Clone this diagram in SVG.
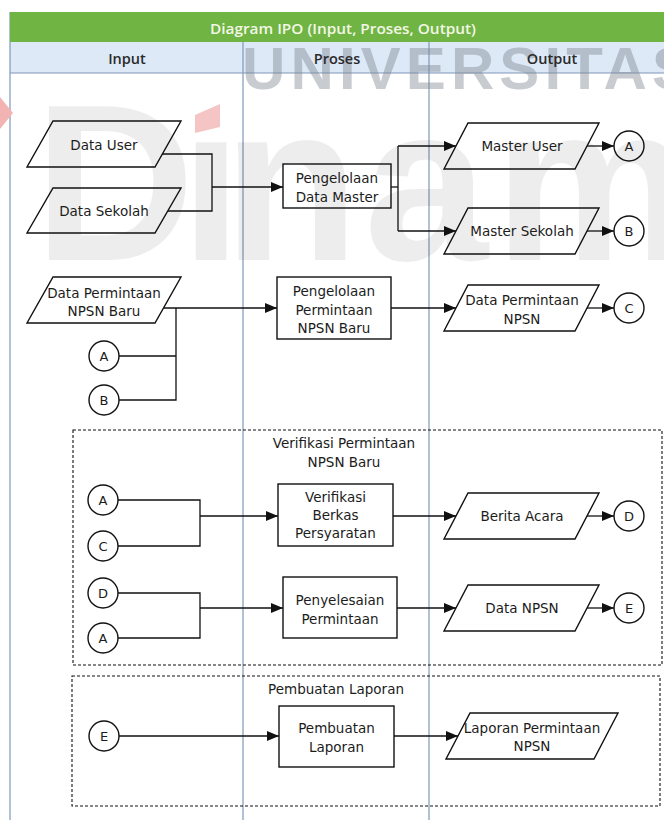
<svg xmlns="http://www.w3.org/2000/svg" width="664" height="820" viewBox="0 0 664 820">
  <style>
    .lane { stroke: #8098ba; stroke-width: 1.2; fill: none; }
    .ln { stroke: #111; stroke-width: 1.3; fill: none; }
    .shp { fill: none; stroke: #111; stroke-width: 1.4; }
    .dash { fill: none; stroke: #111; stroke-width: 1.1; stroke-dasharray: 3 2; }
    .t { font-family: "DejaVu Sans", "Liberation Sans", sans-serif; font-size: 13.5px; fill: #1c1c1c; text-anchor: middle; dominant-baseline: central; }
    .c { font-family: "DejaVu Sans", "Liberation Sans", sans-serif; font-size: 13px; fill: #1c1c1c; text-anchor: middle; dominant-baseline: central; }
    .hd { font-family: "Open Sans", "DejaVu Sans", sans-serif; font-size: 14.5px; font-weight: 600; fill: #2a2a2a; text-anchor: middle; dominant-baseline: central; }
    .wm { font-family: "Liberation Sans", Arial, sans-serif; font-weight: bold; }
  </style>
  <defs>
    <marker id="arrow" markerUnits="userSpaceOnUse" markerWidth="12" markerHeight="10" refX="12" refY="5" orient="auto">
      <path d="M0,0 L12,5 L0,10 z" fill="#111"/>
    </marker>
  </defs>

  <rect width="664" height="820" fill="#ffffff"/>

  <!-- swimlane frame -->
  <g id="lanes">
    <rect x="10" y="42" width="670" height="31" fill="#dde9f7"/>
    <line class="lane" x1="10" y1="73" x2="680" y2="73"/>
    <line class="lane" x1="10" y1="12" x2="10" y2="820"/>
    <line class="lane" x1="243" y1="42" x2="243" y2="820"/>
    <line class="lane" x1="429" y1="42" x2="429" y2="820"/>
  </g>

  <!-- watermark -->
  <g id="watermark">
    <text class="wm" x="242" y="89" font-size="60" textLength="450" lengthAdjust="spacing" fill="#7c838c" fill-opacity="0.42">UNIVERSITAS</text>
    <text class="wm" y="260" font-size="223" fill="#000" fill-opacity="0.07"><tspan x="34">D</tspan><tspan x="180">ı</tspan><tspan x="223">n</tspan><tspan x="364">a</tspan><tspan x="494">m</tspan></text>
    <polygon points="195,115 220,104 220,127 195,133" fill="#f5c4c4"/>
    <polygon points="0,97 13,113 0,129" fill="#f3b3b3"/>
  </g>

  <g id="header">
    <rect x="10" y="12" width="670" height="30" fill="#70b443"/>
    <text x="343" y="28" font-family="'Open Sans', 'DejaVu Sans', sans-serif" font-size="14.5" font-weight="600" fill="#f3f7e6" text-anchor="middle" dominant-baseline="central" textLength="266" lengthAdjust="spacingAndGlyphs">Diagram IPO (Input, Proses, Output)</text>
    <text class="hd" x="127" y="58">Input</text>
    <text class="hd" x="337" y="58">Proses</text>
    <text class="hd" x="552" y="58">Output</text>
  </g>

  <!-- sub-process frames -->
  <g id="frame-verifikasi">
    <rect class="dash" x="73" y="430" width="589" height="235"/>
    <text class="t" x="344" y="443">Verifikasi Permintaan</text>
    <text class="t" x="344" y="462">NPSN Baru</text>
  </g>
  <g id="frame-laporan">
    <rect class="dash" x="72" y="676" width="588" height="130"/>
    <text class="t" x="336" y="689">Pembuatan Laporan</text>
  </g>

  <!-- inputs -->
  <g id="data-user">
    <polygon class="shp" points="53,121 181,121 155,167 27,167"/>
    <text class="t" x="104" y="145">Data User</text>
  </g>
  <g id="data-sekolah">
    <polygon class="shp" points="53,188 181,188 155,233 27,233"/>
    <text class="t" x="104" y="211">Data Sekolah</text>
  </g>
  <g id="data-permintaan-baru">
    <polygon class="shp" points="53,277 181,277 155,323 27,323"/>
    <text class="t" x="104" y="293">Data Permintaan</text>
    <text class="t" x="104" y="311">NPSN Baru</text>
  </g>
  <g id="in-a1"><circle class="shp" cx="104" cy="356" r="15"/><text class="c" x="104" y="356">A</text></g>
  <g id="in-b1"><circle class="shp" cx="104" cy="400" r="15"/><text class="c" x="104" y="400">B</text></g>
  <g id="in-a2"><circle class="shp" cx="103" cy="500" r="15"/><text class="c" x="103" y="500">A</text></g>
  <g id="in-c"><circle class="shp" cx="103" cy="546" r="15"/><text class="c" x="103" y="546">C</text></g>
  <g id="in-d"><circle class="shp" cx="103" cy="593" r="15"/><text class="c" x="103" y="593">D</text></g>
  <g id="in-a3"><circle class="shp" cx="103" cy="638" r="15"/><text class="c" x="103" y="638">A</text></g>
  <g id="in-e"><circle class="shp" cx="104" cy="736" r="15"/><text class="c" x="104" y="736">E</text></g>

  <!-- processes -->
  <g id="proc-master">
    <rect class="shp" x="283" y="164" width="108" height="44"/>
    <text class="t" x="337" y="178">Pengelolaan</text>
    <text class="t" x="337" y="197">Data Master</text>
  </g>
  <g id="proc-permintaan">
    <rect class="shp" x="277" y="277" width="114" height="62"/>
    <text class="t" x="334" y="291">Pengelolaan</text>
    <text class="t" x="334" y="310">Permintaan</text>
    <text class="t" x="334" y="328">NPSN Baru</text>
  </g>
  <g id="proc-verifikasi">
    <rect class="shp" x="278" y="484" width="115" height="62"/>
    <text class="t" x="335.5" y="497">Verifikasi</text>
    <text class="t" x="335.5" y="515">Berkas</text>
    <text class="t" x="335.5" y="533">Persyaratan</text>
  </g>
  <g id="proc-penyelesaian">
    <rect class="shp" x="283" y="577" width="114" height="61"/>
    <text class="t" x="340" y="600">Penyelesaian</text>
    <text class="t" x="340" y="619">Permintaan</text>
  </g>
  <g id="proc-laporan">
    <rect class="shp" x="279" y="706" width="115" height="61"/>
    <text class="t" x="336.5" y="728">Pembuatan</text>
    <text class="t" x="336.5" y="747">Laporan</text>
  </g>

  <!-- outputs -->
  <g id="master-user">
    <polygon class="shp" points="468,123 599,123 575,169 444,169"/>
    <text class="t" x="522" y="146">Master User</text>
  </g>
  <g id="master-sekolah">
    <polygon class="shp" points="468,208 599,208 575,254 444,254"/>
    <text class="t" x="522" y="231">Master Sekolah</text>
  </g>
  <g id="data-permintaan">
    <polygon class="shp" points="468,285 599,285 575,331 444,331"/>
    <text class="t" x="522" y="300">Data Permintaan</text>
    <text class="t" x="522" y="319">NPSN</text>
  </g>
  <g id="berita-acara">
    <polygon class="shp" points="468,493 599,493 575,539 444,539"/>
    <text class="t" x="522" y="516">Berita Acara</text>
  </g>
  <g id="data-npsn">
    <polygon class="shp" points="468,585 599,585 575,631 444,631"/>
    <text class="t" x="522" y="608">Data NPSN</text>
  </g>
  <g id="laporan-permintaan">
    <polygon class="shp" points="470,713 618,713 594,759 446,759"/>
    <text class="t" x="532" y="728">Laporan Permintaan</text>
    <text class="t" x="532" y="746">NPSN</text>
  </g>
  <g id="out-a"><circle class="shp" cx="629" cy="146" r="15"/><text class="c" x="629" y="146">A</text></g>
  <g id="out-b"><circle class="shp" cx="629" cy="231" r="15"/><text class="c" x="629" y="231">B</text></g>
  <g id="out-c"><circle class="shp" cx="629" cy="308" r="15"/><text class="c" x="629" y="308">C</text></g>
  <g id="out-d"><circle class="shp" cx="629" cy="516" r="15"/><text class="c" x="629" y="516">D</text></g>
  <g id="out-e"><circle class="shp" cx="629" cy="608" r="15"/><text class="c" x="629" y="608">E</text></g>

  <!-- connectors -->
  <g id="connectors">
    <polyline class="ln" points="162,154 212,154 212,211 168,211"/>
    <line class="ln" x1="212" y1="187" x2="283" y2="187" marker-end="url(#arrow)"/>
    <polyline class="ln" points="391,187 398,187"/>
    <line class="ln" x1="398" y1="146" x2="398" y2="231"/>
    <line class="ln" x1="398" y1="146" x2="456" y2="146" marker-end="url(#arrow)"/>
    <line class="ln" x1="398" y1="231" x2="456" y2="231" marker-end="url(#arrow)"/>
    <line class="ln" x1="587" y1="146" x2="614" y2="146" marker-end="url(#arrow)"/>
    <line class="ln" x1="587" y1="231" x2="614" y2="231" marker-end="url(#arrow)"/>

    <line class="ln" x1="164" y1="308" x2="277" y2="308" marker-end="url(#arrow)"/>
    <polyline class="ln" points="119,356 176,356"/>
    <polyline class="ln" points="119,400 176,400 176,308"/>
    <line class="ln" x1="391" y1="308" x2="456" y2="308" marker-end="url(#arrow)"/>
    <line class="ln" x1="587" y1="308" x2="614" y2="308" marker-end="url(#arrow)"/>

    <polyline class="ln" points="118,500 200,500 200,546 118,546"/>
    <line class="ln" x1="200" y1="516" x2="278" y2="516" marker-end="url(#arrow)"/>
    <line class="ln" x1="393" y1="516" x2="456" y2="516" marker-end="url(#arrow)"/>
    <line class="ln" x1="587" y1="516" x2="614" y2="516" marker-end="url(#arrow)"/>

    <polyline class="ln" points="118,593 200,593 200,638 118,638"/>
    <line class="ln" x1="200" y1="608" x2="283" y2="608" marker-end="url(#arrow)"/>
    <line class="ln" x1="397" y1="608" x2="456" y2="608" marker-end="url(#arrow)"/>
    <line class="ln" x1="587" y1="608" x2="614" y2="608" marker-end="url(#arrow)"/>

    <line class="ln" x1="119" y1="736" x2="279" y2="736" marker-end="url(#arrow)"/>
    <line class="ln" x1="394" y1="736" x2="458" y2="736" marker-end="url(#arrow)"/>
  </g>
</svg>
